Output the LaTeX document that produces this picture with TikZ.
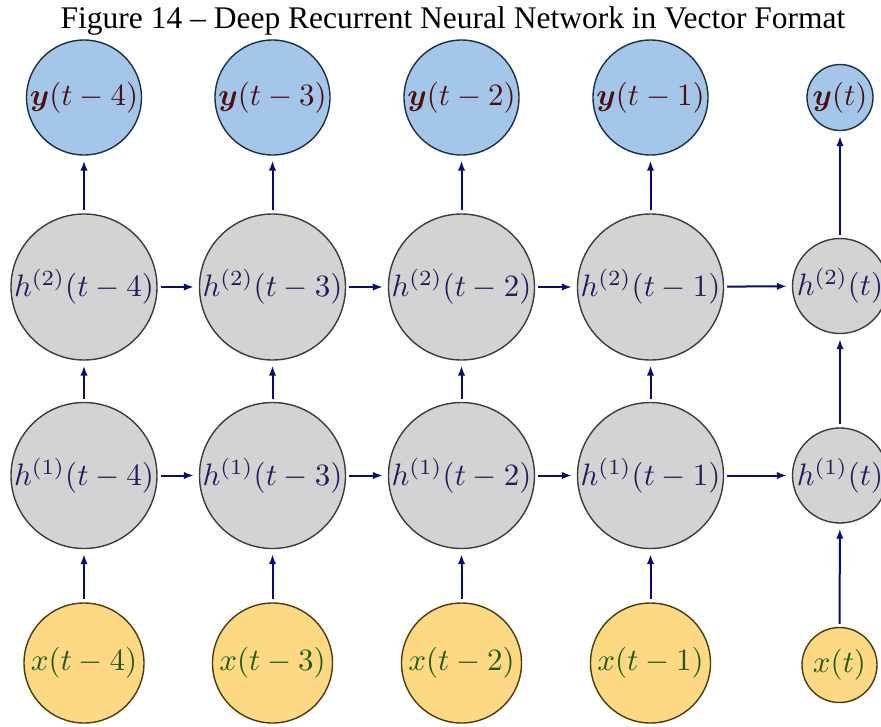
\documentclass[tikz,border=0pt]{standalone}
\usepackage{amsmath}
\usepackage{graphicx}
\usepackage{fontspec}
\newfontfamily\titlefont{Liberation Serif}
\usetikzlibrary{arrows.meta}

\definecolor{yfill}{HTML}{A4C6E8}
\definecolor{yline}{HTML}{1C2E45}
\definecolor{ytext}{HTML}{4B0F0F}
\definecolor{hfill}{HTML}{D3D3D3}
\definecolor{hline}{HTML}{3C3C3C}
\definecolor{htext}{HTML}{1E1E5A}
\definecolor{xfill}{HTML}{FDD983}
\definecolor{xline}{HTML}{4D3A0D}
\definecolor{xtext}{HTML}{1F5A1A}
\definecolor{conncol}{HTML}{0A0A78}

% enlarged math label
\newcommand{\biglab}[1]{\scalebox{3.1}{$#1$}}

\tikzset{
  unit/.style={circle, inner sep=0pt, line width=1.4pt},
  outnode/.style={unit, fill=yfill, draw=yline, text=ytext},
  hidnode/.style={unit, fill=hfill, draw=hline, text=htext},
  innode/.style={unit, fill=xfill, draw=xline, text=xtext},
  conn/.style={draw=conncol, line width=2pt,
    -{Latex[length=10pt,width=7.5pt]}, shorten <=3pt, shorten >=5pt},
}

\begin{document}
\begin{tikzpicture}[x=1pt, y=-1pt]
\useasboundingbox (0,0) rectangle (881,726);

% title
\node[anchor=base, inner sep=0pt, font=\titlefont\fontsize{31.5}{36}\selectfont]
  (title) at (453,28) {Figure 14 – Deep Recurrent Neural Network in Vector Format};

% unrolled time steps t-4 ... t-1
\foreach \i/\cx/\k in {1/84/4, 2/272.5/3, 3/461.5/2, 4/650.5/1} {
  \node[outnode, minimum size=115pt] (y\i)  at (\cx,97.5)  {\biglab{\boldsymbol{y}(t-\k)}};
  \node[hidnode, minimum size=146pt] (hb\i) at (\cx,287)   {\biglab{h^{(2)}(t-\k)}};
  \node[hidnode, minimum size=146pt] (ha\i) at (\cx,475.5) {\biglab{h^{(1)}(t-\k)}};
  \node[innode,  minimum size=120pt] (x\i)  at (\cx,663)   {\biglab{x(t-\k)}};
}

% current time step t
\node[outnode, minimum size=66pt] (y5)  at (840,97.5)  {\biglab{\boldsymbol{y}(t)}};
\node[hidnode, minimum size=95pt] (hb5) at (840,286)   {\biglab{h^{(2)}(t)}};
\node[hidnode, minimum size=95pt] (ha5) at (840,475.5) {\biglab{h^{(1)}(t)}};
\node[innode,  minimum size=75pt] (x5)  at (839.5,665) {\biglab{x(t)}};

% vertical connections
\foreach \i in {1,...,5} {
  \draw[conn] (x\i) -- (ha\i);
  \draw[conn] (ha\i) -- (hb\i);
  \draw[conn] (hb\i) -- (y\i);
}

% recurrent connections
\foreach \i/\j in {1/2, 2/3, 3/4, 4/5} {
  \draw[conn] (ha\i) -- (ha\j);
  \draw[conn] (hb\i) -- (hb\j);
}
\end{tikzpicture}
\end{document}
